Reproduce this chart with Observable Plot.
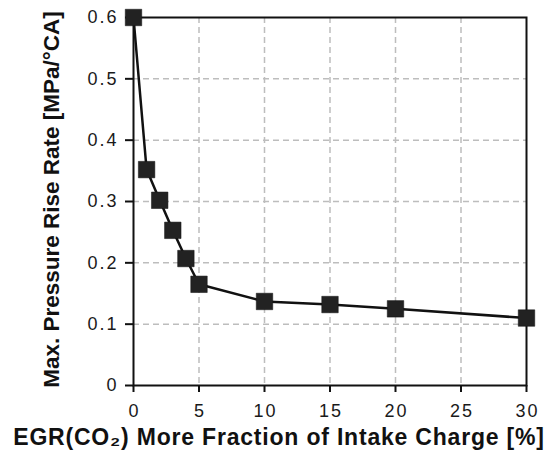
<!DOCTYPE html>
<html>
<head>
<meta charset="utf-8">
<script src="https://cdn.jsdelivr.net/npm/d3@7"></script>
<script src="https://cdn.jsdelivr.net/npm/@observablehq/plot@0.6"></script>
<style>
  html, body { margin: 0; padding: 0; background: #fff; }
  #chart svg { display: block; }
</style>
</head>
<body>
<div id="chart"></div>
<script>
// Data
const egrFraction = [0, 1, 2, 3, 4, 5, 10, 15, 20, 30];
const maxPressureRiseRate = [0.6, 0.352, 0.302, 0.253, 0.207, 0.165, 0.137, 0.132, 0.125, 0.110];
const xTicks = [0, 5, 10, 15, 20, 25, 30];
const yTicks = [0, 0.1, 0.2, 0.3, 0.4, 0.5, 0.6];
const xTitle = "EGR(CO₂) More Fraction of Intake Charge [%]";
const yTitle = "Max. Pressure Rise Rate [MPa/°CA]";

const data = egrFraction.map((x, i) => ({x, y: maxPressureRiseRate[i]}));
const xGrid = xTicks.slice(1, -1);
const yGrid = yTicks.slice(1, -1);

const chart = Plot.plot({
  width: 554,
  height: 455,
  marginLeft: 133,
  marginRight: 28,
  marginTop: 17,
  marginBottom: 70,
  style: {fontFamily: "'Liberation Sans', Arial, sans-serif", color: "#1a1a1a", background: "#fff"},
  x: {domain: [0, 30]},
  y: {domain: [0, 0.6]},
  marks: [
    Plot.gridX(xGrid, {stroke: "#bdbdbd", strokeOpacity: 1, strokeWidth: 1.5, strokeDasharray: "6,4"}),
    Plot.gridY(yGrid, {stroke: "#bdbdbd", strokeOpacity: 1, strokeWidth: 1.5, strokeDasharray: "6,4"}),
    Plot.axisX(xTicks, {tickSize: 7, tickPadding: 12, fontSize: 18, label: null, stroke: "#111", strokeWidth: 2}),
    Plot.axisY(yTicks, {tickSize: 8, tickPadding: 7, fontSize: 18, label: null, stroke: "#111", strokeWidth: 2,
      tickFormat: d => d === 0 ? "0" : d.toFixed(1)}),
    Plot.frame({stroke: "#111", strokeWidth: 2}),
    Plot.line(data, {x: "x", y: "y", stroke: "#111", strokeWidth: 2.5}),
    Plot.dot(data, {x: "x", y: "y", symbol: "square", r: 9.3, fill: "#222", stroke: "#111", strokeWidth: 0.5}),
    Plot.text([xTitle], {frameAnchor: "bottom", textAnchor: "middle", lineAnchor: "top", dx: -51, dy: 43,
      fontSize: 23, fontWeight: "bold", fill: "#111", text: d => d}),
    Plot.text([yTitle], {frameAnchor: "left", textAnchor: "middle", rotate: -90, lineAnchor: "middle", dx: -82, dy: -2,
      fontSize: 22.5, fontWeight: "bold", fill: "#111", text: d => d})
  ]
});

document.getElementById("chart").appendChild(chart);

// widen tick labels and the x title like the reference
d3.select(chart).selectAll('g[aria-label="x-axis tick label"] text').style("letter-spacing", "2px").attr("dx", "1px");
d3.select(chart).selectAll('g[aria-label="y-axis tick label"] text').style("letter-spacing", "2px");
d3.select(chart).selectAll('g[aria-label="text"] text')
  .filter(function() { return this.textContent === xTitle; })
  .style("letter-spacing", "0.8px");
</script>
</body>
</html>
